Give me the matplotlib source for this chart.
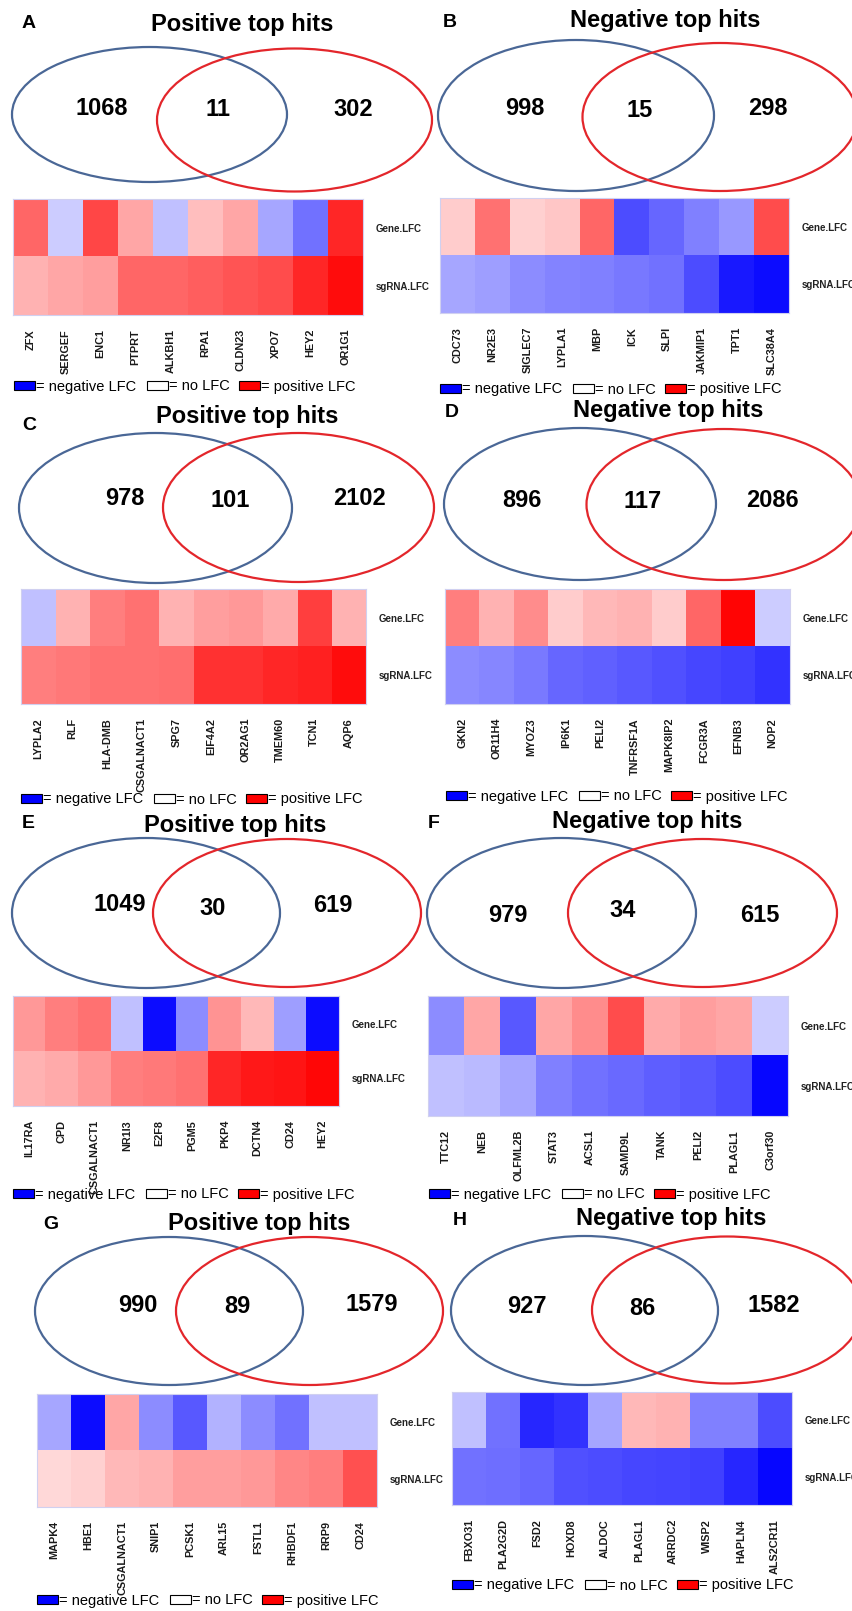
import numpy as np
import matplotlib
matplotlib.use("Agg")
import matplotlib.pyplot as plt
from matplotlib.patches import Ellipse, Rectangle

plt.rcParams["font.family"] = ["Liberation Sans", "DejaVu Sans"]

W, H = 852, 1611
BLUE = "#4a6796"
RED = "#e3262b"

# Venn counts: [left only, overlap, right only]
counts_A = [1068, 11, 302]
counts_B = [998, 15, 298]
counts_C = [978, 101, 2102]
counts_D = [896, 117, 2086]
counts_E = [1049, 30, 619]
counts_F = [979, 34, 615]
counts_G = [990, 89, 1579]
counts_H = [927, 86, 1582]

genes_A = ["ZFX", "SERGEF", "ENC1", "PTPRT", "ALKBH1", "RPA1", "CLDN23", "XPO7", "HEY2", "OR1G1"]
gene_lfc_A = [0.6, -0.2, 0.72, 0.35, -0.25, 0.25, 0.35, -0.35, -0.55, 0.85]
sgrna_lfc_A = [0.3, 0.35, 0.38, 0.6, 0.6, 0.63, 0.67, 0.7, 0.85, 0.95]

genes_B = ["CDC73", "NR2E3", "SIGLEC7", "LYPLA1", "MBP", "ICK", "SLPI", "JAKMIP1", "TPT1", "SLC38A4"]
gene_lfc_B = [0.2, 0.55, 0.18, 0.22, 0.6, -0.7, -0.6, -0.5, -0.4, 0.7]
sgrna_lfc_B = [-0.35, -0.38, -0.45, -0.48, -0.5, -0.53, -0.55, -0.7, -0.9, -0.95]

genes_C = ["LYPLA2", "RLF", "HLA-DMB", "CSGALNACT1", "SPG7", "EIF4A2", "OR2AG1", "TMEM60", "TCN1", "AQP6"]
gene_lfc_C = [-0.25, 0.3, 0.5, 0.55, 0.3, 0.38, 0.4, 0.33, 0.75, 0.3]
sgrna_lfc_C = [0.5, 0.53, 0.55, 0.55, 0.57, 0.8, 0.8, 0.85, 0.87, 0.95]

genes_D = ["GKN2", "OR11H4", "MYOZ3", "IP6K1", "PELI2", "TNFRSF1A", "MAPK8IP2", "FCGR3A", "EFNB3", "NOP2"]
gene_lfc_D = [0.5, 0.3, 0.45, 0.2, 0.28, 0.3, 0.2, 0.6, 0.98, -0.2]
sgrna_lfc_D = [-0.45, -0.47, -0.52, -0.6, -0.62, -0.65, -0.68, -0.72, -0.75, -0.8]

genes_E = ["IL17RA", "CPD", "CSGALNACT1", "NR1I3", "E2F8", "PGM5", "PKP4", "DCTN4", "CD24", "HEY2"]
gene_lfc_E = [0.4, 0.5, 0.55, -0.25, -0.95, -0.45, 0.42, 0.28, -0.38, -0.95]
sgrna_lfc_E = [0.3, 0.33, 0.4, 0.5, 0.52, 0.55, 0.85, 0.9, 0.92, 0.97]

genes_F = ["TTC12", "NEB", "OLFML2B", "STAT3", "ACSL1", "SAMD9L", "TANK", "PELI2", "PLAGL1", "C3orf30"]
gene_lfc_F = [-0.45, 0.35, -0.65, 0.35, 0.45, 0.7, 0.33, 0.38, 0.35, -0.2]
sgrna_lfc_F = [-0.25, -0.27, -0.35, -0.5, -0.55, -0.58, -0.63, -0.65, -0.7, -0.97]

genes_G = ["MAPK4", "HBE1", "CSGALNACT1", "SNIP1", "PCSK1", "ARL15", "FSTL1", "RHBDF1", "RRP9", "CD24"]
gene_lfc_G = [-0.35, -0.95, 0.35, -0.45, -0.65, -0.3, -0.45, -0.55, -0.25, -0.25]
sgrna_lfc_G = [0.15, 0.18, 0.28, 0.3, 0.38, 0.38, 0.4, 0.47, 0.5, 0.68]

genes_H = ["FBXO31", "PLA2G2D", "FSD2", "HOXD8", "ALDOC", "PLAGL1", "ARRDC2", "WISP2", "HAPLN4", "ALS2CR11"]
gene_lfc_H = [-0.25, -0.55, -0.85, -0.8, -0.35, 0.28, 0.3, -0.5, -0.5, -0.7]
sgrna_lfc_H = [-0.55, -0.57, -0.6, -0.68, -0.7, -0.72, -0.73, -0.75, -0.85, -0.97]

titles = {"A": "Positive top hits", "B": "Negative top hits", "C": "Positive top hits",
          "D": "Negative top hits", "E": "Positive top hits", "F": "Negative top hits",
          "G": "Positive top hits", "H": "Negative top hits"}

# pixel layout of each panel (x, y from the top-left corner)
LAYOUT = {
    "A": dict(letter=(22, 28), title=(242, 31), blue=(149.5, 114.5, 275, 135), red=(294.5, 120, 275, 143),
              nums=[(102, 115), (218, 116), (353, 116)], heat=(13, 199, 363, 315), legend=(14, 385)),
    "B": dict(letter=(443, 27), title=(665, 27), blue=(576, 115.5, 276, 151), red=(720, 117, 275, 148),
              nums=[(525, 115), (640, 117), (768, 115)], heat=(440, 198, 789, 313), legend=(440, 388)),
    "C": dict(letter=(22, 430), title=(247, 423), blue=(155.5, 508, 273, 150), red=(298.5, 507.5, 271, 149),
              nums=[(125, 505), (230, 507), (360, 505)], heat=(21, 589, 366, 704), legend=(21, 798)),
    "D": dict(letter=(445, 417), title=(668, 417), blue=(580, 504, 272, 152), red=(724, 504.5, 275, 151),
              nums=[(522, 507), (643, 508), (772, 507)], heat=(445, 589, 790, 704), legend=(446, 795)),
    "E": dict(letter=(22, 828), title=(235, 832), blue=(146, 913, 268, 150), red=(287, 913, 268, 148),
              nums=[(120, 911), (213, 915), (333, 912)], heat=(13, 996, 339, 1106), legend=(13, 1193)),
    "F": dict(letter=(428, 828), title=(647, 828), blue=(561.5, 913, 269, 150), red=(702.5, 913, 269, 148),
              nums=[(508, 922), (623, 917), (760, 922)], heat=(428, 996, 788, 1116), legend=(429, 1193)),
    "G": dict(letter=(43, 1229), title=(259, 1230), blue=(169, 1311, 268, 148), red=(309.5, 1311, 267, 148),
              nums=[(138, 1312), (237, 1313), (372, 1311)], heat=(37, 1394, 377, 1507), legend=(37, 1599)),
    "H": dict(letter=(453, 1225), title=(671, 1225), blue=(584.5, 1310.5, 267, 149), red=(727, 1310, 270, 147),
              nums=[(527, 1313), (642, 1315), (774, 1312)], heat=(452, 1392, 792, 1505), legend=(452, 1584)),
}

panels = [
    ("A", counts_A, genes_A, gene_lfc_A, sgrna_lfc_A),
    ("B", counts_B, genes_B, gene_lfc_B, sgrna_lfc_B),
    ("C", counts_C, genes_C, gene_lfc_C, sgrna_lfc_C),
    ("D", counts_D, genes_D, gene_lfc_D, sgrna_lfc_D),
    ("E", counts_E, genes_E, gene_lfc_E, sgrna_lfc_E),
    ("F", counts_F, genes_F, gene_lfc_F, sgrna_lfc_F),
    ("G", counts_G, genes_G, gene_lfc_G, sgrna_lfc_G),
    ("H", counts_H, genes_H, gene_lfc_H, sgrna_lfc_H),
]


def draw_panel(fig, ax0, key, counts, genes, gene_lfc, sgrna_lfc):
    lay = LAYOUT[key]
    lx, ly = lay["letter"]
    ax0.text(lx, ly, key, fontsize=14, fontweight="bold", ha="left", va="baseline")
    tx, ty = lay["title"]
    ax0.text(tx, ty, titles[key], fontsize=17, fontweight="bold", ha="center", va="baseline")

    for (cx, cy, w, h), col in [(lay["blue"], BLUE), (lay["red"], RED)]:
        ax0.add_patch(Ellipse((cx, cy), w, h, fill=False, ec=col, lw=1.6))
    for (x, y), n in zip(lay["nums"], counts):
        ax0.text(x, y, str(n), fontsize=17, fontweight="bold", ha="center", va="baseline")

    # heatmap: Gene.LFC on top, sgRNA.LFC below
    l, t, r, b = lay["heat"]
    ax = fig.add_axes([l / W, 1 - b / H, (r - l) / W, (b - t) / H])
    ax.imshow(np.array([gene_lfc, sgrna_lfc]), cmap="bwr", vmin=-1, vmax=1,
              aspect="auto", interpolation="nearest")
    ax.set_xticks(range(len(genes)))
    ax.set_xticklabels(genes, rotation=90, fontsize=7.8, fontweight="bold", color="#1a1a1a")
    ax.set_yticks([0, 1])
    ax.set_yticklabels(["Gene.LFC", "sgRNA.LFC"], fontsize=7, fontweight="bold", color="#222222")
    ax.yaxis.tick_right()
    ax.tick_params(length=0)
    ax.tick_params(axis="x", pad=10)
    ax.tick_params(axis="y", pad=9)
    for s in ax.spines.values():
        s.set_color("#d0d0f0")
        s.set_linewidth(0.8)

    # colour key
    x0, y0 = lay["legend"]
    items = [(0, "#0000ff", "= negative LFC"), (133, "white", "= no LFC"), (225, "#ff0000", "= positive LFC")]
    for off, fc, label in items:
        ax0.add_patch(Rectangle((x0 + off, y0 - 4.5), 21, 9, fc=fc, ec="black", lw=0.8))
        ax0.text(x0 + off + 22, y0, label, fontsize=10.5, ha="left", va="center_baseline")


fig = plt.figure(figsize=(W / 100, H / 100), dpi=100)
ax0 = fig.add_axes([0, 0, 1, 1])
ax0.set_xlim(0, W)
ax0.set_ylim(H, 0)
ax0.axis("off")

for key, counts, genes, gene_lfc, sgrna_lfc in panels:
    draw_panel(fig, ax0, key, counts, genes, gene_lfc, sgrna_lfc)

fig.savefig("out.png", dpi=100)
